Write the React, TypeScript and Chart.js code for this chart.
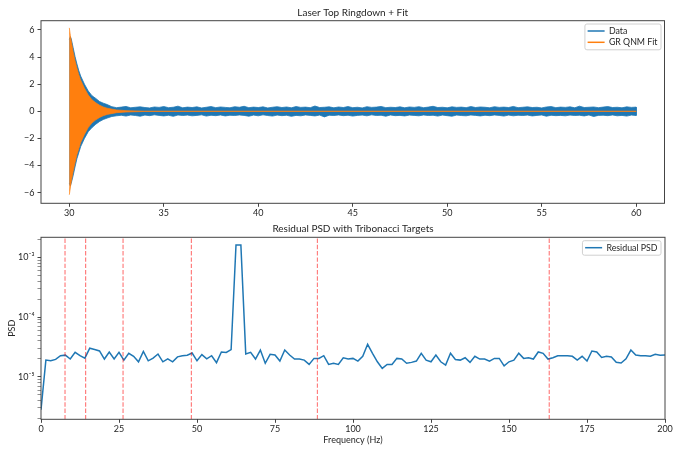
import React, { useEffect, useRef } from 'react';
import { Chart, registerables } from 'chart.js';

Chart.register(...registerables);

const FONT = 'Lato, "Noto Sans", "DejaVu Sans", sans-serif';
const BLUE = '#1f77b4';
const ORANGE = '#ff7f0e';
const TEXT = '#262626';
const SPINE = '#444444';

// ---------- top panel: ringdown (dense traces read as envelopes) ----------
const ringTime = [30, 30.05, 30.1, 30.2, 30.3, 30.4, 30.5, 30.6, 30.8, 31, 31.2, 31.4, 31.6, 31.8, 32];
const ringUpper = [5.3, 5.5, 5.35, 4.7, 4.05, 3.5, 3.0, 2.6, 2.0, 1.5, 1.15, 0.95, 0.72, 0.6, 0.5];
const ringLower = [-5.3, -5.5, -5.3, -4.75, -4.1, -3.5, -3.05, -2.6, -2.0, -1.5, -1.2, -0.95, -0.75, -0.6, -0.5];

const noiseTime = [
  32.25, 32.5, 32.75, 33, 33.25, 33.5, 33.75, 34,
  34.25, 34.5, 34.75, 35, 35.25, 35.5, 35.75, 36,
  36.25, 36.5, 36.75, 37, 37.25, 37.5, 37.75, 38,
  38.25, 38.5, 38.75, 39, 39.25, 39.5, 39.75, 40,
  40.25, 40.5, 40.75, 41, 41.25, 41.5, 41.75, 42,
  42.25, 42.5, 42.75, 43, 43.25, 43.5, 43.75, 44,
  44.25, 44.5, 44.75, 45, 45.25, 45.5, 45.75, 46,
  46.25, 46.5, 46.75, 47, 47.25, 47.5, 47.75, 48,
  48.25, 48.5, 48.75, 49, 49.25, 49.5, 49.75, 50,
  50.25, 50.5, 50.75, 51, 51.25, 51.5, 51.75, 52,
  52.25, 52.5, 52.75, 53, 53.25, 53.5, 53.75, 54,
  54.25, 54.5, 54.75, 55, 55.25, 55.5, 55.75, 56,
  56.25, 56.5, 56.75, 57, 57.25, 57.5, 57.75, 58,
  58.25, 58.5, 58.75, 59, 59.25, 59.5, 59.75, 60,
];
const noiseUpper = [
  0.34, 0.27, 0.31, 0.36, 0.26, 0.30, 0.33, 0.28,
  0.25, 0.32, 0.29, 0.35, 0.27, 0.30, 0.38, 0.26,
  0.31, 0.28, 0.33, 0.25, 0.30, 0.35, 0.27, 0.32,
  0.29, 0.26, 0.34, 0.30, 0.37, 0.27, 0.31, 0.28,
  0.33, 0.25, 0.30, 0.34, 0.28, 0.32, 0.26, 0.35,
  0.29, 0.31, 0.27, 0.39, 0.28, 0.30, 0.33, 0.26,
  0.32, 0.28, 0.35, 0.27, 0.30, 0.25, 0.34, 0.29,
  0.31, 0.36, 0.27, 0.30, 0.28, 0.33, 0.26, 0.32,
  0.29, 0.34, 0.27, 0.31, 0.37, 0.28, 0.30, 0.26,
  0.33, 0.29, 0.31, 0.27, 0.35, 0.28, 0.32, 0.30,
  0.26, 0.34, 0.29, 0.31, 0.28, 0.36, 0.27, 0.30,
  0.33, 0.28, 0.30, 0.25, 0.32, 0.35, 0.27, 0.31,
  0.29, 0.33, 0.26, 0.38, 0.28, 0.30, 0.32, 0.27,
  0.31, 0.35, 0.28, 0.30, 0.26, 0.33, 0.29, 0.31,
];
const noiseLower = [
  -0.38, -0.33, -0.29, -0.35, -0.27, -0.31, -0.36, -0.28,
  -0.32, -0.26, -0.30, -0.34, -0.29, -0.37, -0.27, -0.31,
  -0.28, -0.33, -0.30, -0.26, -0.35, -0.29, -0.32, -0.27,
  -0.34, -0.29, -0.31, -0.27, -0.30, -0.36, -0.28, -0.33,
  -0.26, -0.31, -0.35, -0.28, -0.32, -0.29, -0.37, -0.30,
  -0.33, -0.27, -0.30, -0.34, -0.28, -0.41, -0.29, -0.31,
  -0.27, -0.32, -0.29, -0.35, -0.30, -0.28, -0.33, -0.26,
  -0.31, -0.29, -0.36, -0.27, -0.32, -0.30, -0.34, -0.28,
  -0.30, -0.33, -0.27, -0.31, -0.29, -0.35, -0.28, -0.32,
  -0.36, -0.28, -0.31, -0.33, -0.27, -0.30, -0.34, -0.29,
  -0.32, -0.27, -0.30, -0.35, -0.28, -0.33, -0.29, -0.31,
  -0.28, -0.34, -0.30, -0.27, -0.36, -0.29, -0.32, -0.30,
  -0.33, -0.28, -0.31, -0.29, -0.34, -0.27, -0.38, -0.30,
  -0.29, -0.32, -0.27, -0.33, -0.30, -0.35, -0.28, -0.31,
];

const fitTime = [30, 30.05, 30.1, 30.2, 30.3, 30.4, 30.5, 30.6, 30.8, 31, 31.2, 31.4, 31.6, 31.8, 32, 32.5, 33, 34, 60];
const fitUpper = [6.15, 5.6, 5.2, 4.4, 3.75, 3.2, 2.7, 2.3, 1.7, 1.2, 0.85, 0.63, 0.45, 0.32, 0.23, 0.1, 0.05, 0.01, 0.005];
const fitLower = [-6.15, -5.65, -5.2, -4.45, -3.8, -3.2, -2.75, -2.3, -1.7, -1.2, -0.85, -0.63, -0.45, -0.32, -0.23, -0.1, -0.05, -0.01, -0.005];

const topXTicks = [30, 35, 40, 45, 50, 55, 60];
const topYTicks = [-6, -4, -2, 0, 2, 4, 6];

// ---------- bottom panel: residual PSD ----------
const freqStep = 1.5625; // Hz between PSD bins
const psd = [
  2.8e-6, 1.9e-5, 1.85e-5, 1.95e-5, 2.25e-5, 2.3e-5, 1.98e-5, 2.56e-5, 2.25e-5, 2.05e-5,
  3.0e-5, 2.85e-5, 2.7e-5, 1.98e-5, 2.6e-5, 1.98e-5, 2.56e-5, 1.9e-5, 2.47e-5, 2.2e-5,
  1.78e-5, 2.65e-5, 1.85e-5, 2.05e-5, 2.4e-5, 1.78e-5, 2.0e-5, 1.78e-5, 2.15e-5, 2.25e-5,
  2.3e-5, 2.5e-5, 1.85e-5, 2.35e-5, 2.0e-5, 2.25e-5, 1.72e-5, 2.6e-5, 2.55e-5, 2.85e-5,
  1.6e-3, 1.6e-3, 2.4e-5, 2.56e-5, 1.98e-5, 2.8e-5, 1.68e-5, 2.37e-5, 2.31e-5, 1.83e-5,
  2.8e-5, 2.31e-5, 1.98e-5, 1.98e-5, 1.9e-5, 1.61e-5, 2.03e-5, 2.03e-5, 2.25e-5, 1.61e-5,
  1.68e-5, 1.61e-5, 2.08e-5, 1.98e-5, 2.03e-5, 1.83e-5, 2.2e-5, 3.49e-5, 2.47e-5, 1.78e-5,
  1.38e-5, 1.61e-5, 1.61e-5, 2.03e-5, 1.98e-5, 1.68e-5, 1.74e-5, 1.83e-5, 2.47e-5, 1.9e-5,
  1.78e-5, 2.31e-5, 1.78e-5, 1.57e-5, 2.47e-5, 1.95e-5, 1.9e-5, 2.08e-5, 1.74e-5, 2.2e-5,
  1.98e-5, 1.98e-5, 1.83e-5, 2.03e-5, 2.03e-5, 1.52e-5, 1.78e-5, 1.9e-5, 2.47e-5, 2.03e-5,
  2.08e-5, 1.98e-5, 2.6e-5, 2.47e-5, 1.98e-5, 2.08e-5, 2.25e-5, 2.25e-5, 2.25e-5, 2.2e-5,
  1.9e-5, 2.2e-5, 1.83e-5, 2.7e-5, 2.6e-5, 2.1e-5, 2.2e-5, 2.15e-5, 1.75e-5, 1.7e-5,
  2.0e-5, 2.8e-5, 2.31e-5, 2.25e-5, 2.25e-5, 2.2e-5, 2.37e-5, 2.3e-5, 2.31e-5,
];
const targets = [7.7, 14.3, 26.3, 48.2, 88.6, 162.9];
const bottomXTicks = [0, 25, 50, 75, 100, 125, 150, 175, 200];
const psdDecades = [1e-5, 1e-4, 1e-3];
const psdDecadeLabels = ['10⁻⁵', '10⁻⁴', '10⁻³'];
const psdMin = 1.94e-6;
const psdMax = 2.16e-3;

const minus = (v: number) => (v < 0 ? '\u2212' + Math.abs(v) : String(v));

const boxPlugin = {
  id: 'mplBox',
  afterDraw(chart: any) {
    const { ctx, chartArea } = chart;
    ctx.save();
    ctx.strokeStyle = SPINE;
    ctx.lineWidth = 1;
    ctx.strokeRect(chartArea.left, chartArea.top, chartArea.right - chartArea.left, chartArea.bottom - chartArea.top);
    ctx.restore();
  },
};

const titlePlugin = {
  id: 'mplTitle',
  afterDraw(chart: any, _args: any, opts: any) {
    if (!opts || !opts.text) return;
    const { ctx, chartArea } = chart;
    ctx.save();
    ctx.font = `${opts.size}px ${FONT}`;
    ctx.fillStyle = TEXT;
    ctx.textAlign = 'center';
    ctx.textBaseline = 'middle';
    ctx.fillText(opts.text, (chartArea.left + chartArea.right) / 2, opts.y);
    ctx.restore();
  },
};

const legendPlugin = {
  id: 'mplLegend',
  afterDraw(chart: any, _args: any, opts: any) {
    if (!opts || !opts.items) return;
    const { ctx, chartArea } = chart;
    const items = opts.items as { label: string; color: string }[];
    ctx.save();
    ctx.font = `${opts.size}px ${FONT}`;
    let tw = 0;
    items.forEach((it) => (tw = Math.max(tw, ctx.measureText(it.label).width)));
    const rowH = 11.3;
    const w = 24 + tw + 3.5;
    const h = items.length * rowH + 3.2;
    const x0 = chartArea.right - opts.right - w;
    const y0 = chartArea.top + opts.top;
    ctx.fillStyle = 'rgba(255,255,255,0.8)';
    ctx.strokeStyle = '#d0d0d0';
    ctx.lineWidth = 1;
    ctx.beginPath();
    (ctx as any).roundRect ? (ctx as any).roundRect(x0, y0, w, h, 2) : ctx.rect(x0, y0, w, h);
    ctx.fill();
    ctx.stroke();
    items.forEach((it, i) => {
      const y = y0 + 7 + i * rowH;
      ctx.strokeStyle = it.color;
      ctx.lineWidth = 1.5;
      ctx.beginPath();
      ctx.moveTo(x0 + 2.7, y);
      ctx.lineTo(x0 + 19.7, y);
      ctx.stroke();
      ctx.fillStyle = TEXT;
      ctx.textBaseline = 'middle';
      ctx.textAlign = 'left';
      ctx.fillText(it.label, x0 + 24, y);
    });
    ctx.restore();
  },
};

const TICK_SIZE = 9;
const tickFont = { family: FONT, size: TICK_SIZE };
const axisGrid = { display: true, drawOnChartArea: false, drawTicks: true, tickLength: 3.5, color: SPINE };

export default function App() {
  const topRef = useRef<HTMLCanvasElement>(null);
  const botRef = useRef<HTMLCanvasElement>(null);

  useEffect(() => {
    const dataTime = [...ringTime, ...noiseTime];
    const dataUp = [...ringUpper, ...noiseUpper];
    const dataLo = [...ringLower, ...noiseLower];

    // closed outline: upper edge left→right, then lower edge right→left
    const outline = (xs: number[], up: number[], lo: number[]) => [
      ...xs.map((x, i) => ({ x, y: up[i] })),
      ...xs.map((x, i) => ({ x, y: lo[i] })).reverse(),
    ];
    const traceStyle = (c: string, w: number) => ({
      borderColor: c,
      backgroundColor: c,
      borderWidth: w,
      pointRadius: 0,
      fill: 'shape',
      tension: 0,
    });

    const top = new Chart(topRef.current as HTMLCanvasElement, {
      type: 'line',
      data: {
        datasets: [
          { label: 'GR QNM Fit', data: outline(fitTime, fitUpper, fitLower), ...traceStyle(ORANGE, 0.7) },
          { label: 'Data', data: outline(dataTime, dataUp, dataLo), ...traceStyle(BLUE, 0.8) },
        ],
      },
      options: {
        animation: false,
        responsive: false,
        events: [],
        layout: { padding: { left: 0, right: 15.5, top: 20.7, bottom: 0 } },
        plugins: {
          legend: { display: false },
          tooltip: { enabled: false },
          title: { display: false },
          mplTitle: { text: 'Laser Top Ringdown + Fit', size: 10, y: 12.7 },
          mplLegend: { items: [{ label: 'Data', color: BLUE }, { label: 'GR QNM Fit', color: ORANGE }], right: 3.5, top: 3.3, size: 8.8 },
        } as any,
        scales: {
          x: {
            type: 'linear',
            min: 28.5,
            max: 61.5,
            afterBuildTicks: (s: any) => { s.ticks = topXTicks.map((v) => ({ value: v })); },
            afterFit: (s: any) => { s.height = 14.7; },
            grid: axisGrid,
            border: { display: false },
            ticks: { font: tickFont, color: TEXT, padding: 0.5, maxRotation: 0, autoSkip: false, callback: (v: any) => minus(Number(v)) },
          },
          y: {
            type: 'linear',
            min: -6.78,
            max: 6.68,
            afterBuildTicks: (s: any) => { s.ticks = topYTicks.map((v) => ({ value: v })); },
            afterFit: (s: any) => { s.width = 41; },
            grid: axisGrid,
            border: { display: false },
            ticks: { font: tickFont, color: TEXT, padding: 3, autoSkip: false, callback: (v: any) => minus(Number(v)) },
          },
        },
      } as any,
      plugins: [boxPlugin, legendPlugin, titlePlugin],
    });

    const isDecade = (v: number) => Math.abs(Math.log10(v) - Math.round(Math.log10(v))) < 1e-9;
    const logTicks: number[] = [];
    [1e-6, 1e-5, 1e-4, 1e-3].forEach((d) => {
      for (let m = 1; m <= 9; m++) {
        const v = m * d;
        if (v >= psdMin && v <= psdMax) logTicks.push(v);
      }
    });

    const psdPoints = psd.map((y, i) => ({ x: i * freqStep, y }));
    const targetSets = targets.map((f) => ({
      label: 'target',
      data: [{ x: f, y: psdMin }, { x: f, y: psdMax }],
      borderColor: 'rgba(255,0,0,0.5)',
      borderWidth: 1.2,
      borderDash: [4.4, 1.9],
      pointRadius: 0,
      fill: false,
      order: 0,
    }));

    const bot = new Chart(botRef.current as HTMLCanvasElement, {
      type: 'line',
      data: {
        datasets: [
          ...targetSets,
          { label: 'Residual PSD', data: psdPoints, borderColor: BLUE, borderWidth: 1.5, pointRadius: 0, fill: false, tension: 0, order: 1 },
        ],
      },
      options: {
        animation: false,
        responsive: false,
        events: [],
        layout: { padding: { left: 0, right: 15, top: 19.3, bottom: 2.7 } },
        plugins: {
          legend: { display: false },
          tooltip: { enabled: false },
          title: { display: false },
          mplTitle: { text: 'Residual PSD with Tribonacci Targets', size: 10, y: 11 },
          mplLegend: { items: [{ label: 'Residual PSD', color: BLUE }], right: 4, top: 3.4, size: 8.8 },
        } as any,
        scales: {
          x: {
            type: 'linear',
            min: 0,
            max: 200,
            afterBuildTicks: (s: any) => { s.ticks = bottomXTicks.map((v) => ({ value: v })); },
            afterFit: (s: any) => { s.height = 31; },
            grid: axisGrid,
            border: { display: false },
            ticks: { font: tickFont, color: TEXT, padding: 0.5, maxRotation: 0, autoSkip: false },
            title: { display: true, text: 'Frequency (Hz)', color: TEXT, font: { family: FONT, size: TICK_SIZE }, padding: { top: 0, bottom: 5 } },
          },
          y: {
            type: 'logarithmic',
            min: psdMin,
            max: psdMax,
            afterBuildTicks: (s: any) => { s.ticks = logTicks.map((v) => ({ value: v, major: isDecade(v) })); },
            afterFit: (s: any) => { s.width = 41; },
            grid: {
              ...axisGrid,
              tickWidth: (c: any) => (c.tick && isDecade(c.tick.value) ? 1 : 0.6),
            },
            border: { display: false },
            ticks: {
              font: tickFont,
              color: TEXT,
              padding: 3,
              autoSkip: false,
              callback: (v: any) => {
                const i = psdDecades.findIndex((d) => Math.abs(d - Number(v)) / d < 1e-6);
                return i >= 0 ? psdDecadeLabels[i] : '';
              },
            },
            title: { display: true, text: 'PSD', color: TEXT, font: { family: FONT, size: TICK_SIZE }, padding: { top: 7, bottom: 0 } },
          },
        },
      } as any,
      plugins: [boxPlugin, legendPlugin, titlePlugin],
    });

    return () => {
      top.destroy();
      bot.destroy();
    };
  }, []);

  return (
    <div style={{ position: 'absolute', left: 0, top: 0, width: 680, height: 453, background: '#fff' }}>
      <canvas ref={topRef} width={680} height={218} style={{ position: 'absolute', left: 0, top: 0, display: 'block' }} />
      <canvas ref={botRef} width={680} height={235} style={{ position: 'absolute', left: 0, top: 218, display: 'block' }} />
    </div>
  );
}
